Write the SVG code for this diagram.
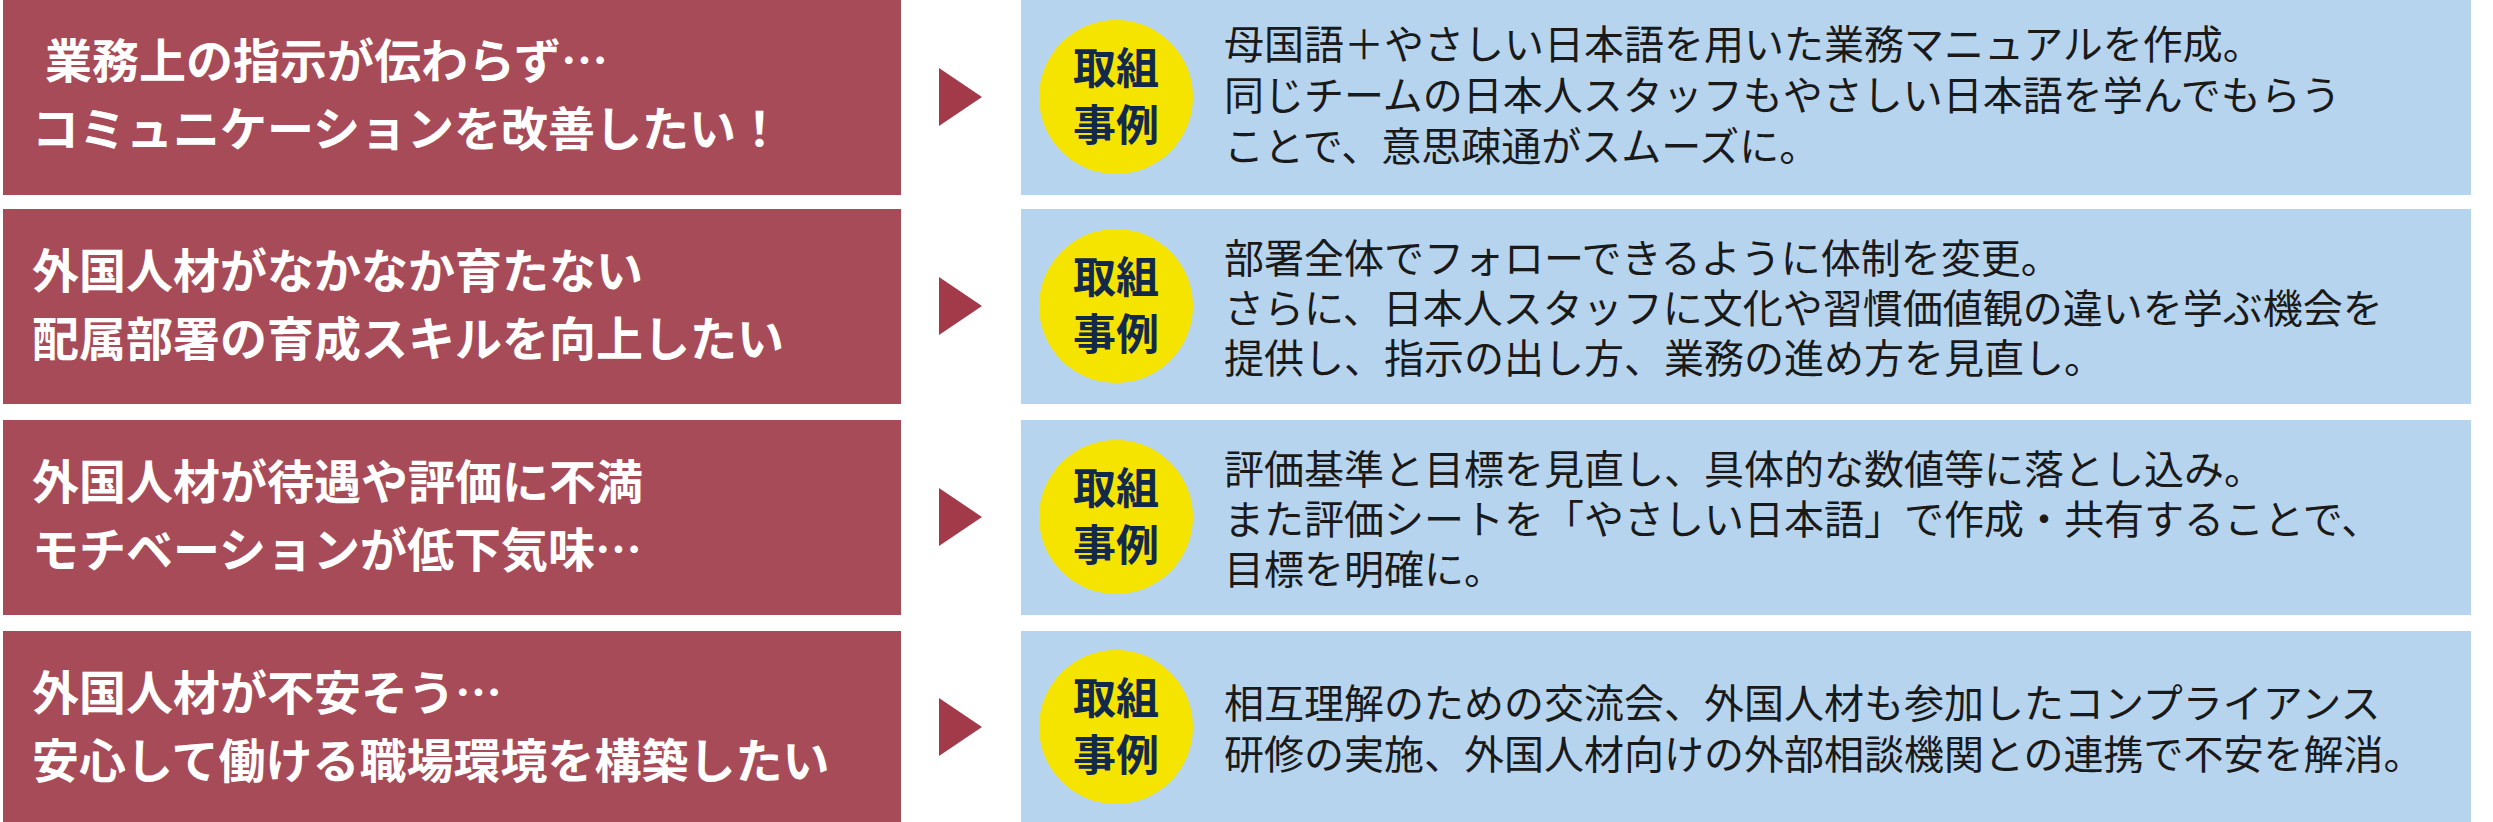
<svg xmlns="http://www.w3.org/2000/svg" width="2493" height="822" viewBox="0 0 2493 822">
<style>
.l{fill:#A84B58}.r{fill:#B7D4EE}.a{fill:#A33A4A}.c{fill:#F5E400}
.lt{font-family:"Noto Sans CJK JP",sans-serif;font-weight:bold;font-size:47px;fill:#fff}
.bt{font-family:"Noto Sans CJK JP",sans-serif;font-weight:bold;font-size:43px;fill:#13294B;text-anchor:middle}
.rt{font-family:"Noto Sans CJK JP",sans-serif;font-size:40px;fill:#1a1a1a}
</style>
<rect width="2493" height="822" fill="#fff"/>
<g id="row1">
<rect class="l" x="3" y="0" width="898" height="195"/>
<text class="lt" x="45" y="78">業務上の指示が伝わらず…</text>
<text class="lt" x="32" y="146">コミュニケーションを改善したい！</text>
<rect class="r" x="1021" y="0" width="1450" height="195"/>
<circle class="c" cx="1116" cy="97" r="77"/>
<text class="bt" x="1116" y="84">取組</text><text class="bt" x="1116" y="141">事例</text>
<text class="rt" x="1224" y="59">母国語＋やさしい日本語を用いた業務マニュアルを作成。</text>
<text class="rt" x="1224" y="110">同じチームの日本人スタッフもやさしい日本語を学んでもらう</text>
<text class="rt" x="1224" y="161">ことで、意思疎通がスムーズに。</text>
</g>
<g id="row2">
<rect class="l" x="3" y="209" width="898" height="195"/>
<text class="lt" x="32" y="288">外国人材がなかなか育たない</text>
<text class="lt" x="32" y="356">配属部署の育成スキルを向上したい</text>
<rect class="r" x="1021" y="209" width="1450" height="195"/>
<circle class="c" cx="1116" cy="306" r="77"/>
<text class="bt" x="1116" y="293">取組</text><text class="bt" x="1116" y="350">事例</text>
<text class="rt" x="1224" y="273">部署全体でフォローできるように体制を変更。</text>
<text class="rt" x="1224" y="323">さらに、日本人スタッフに文化や習慣価値観の違いを学ぶ機会を</text>
<text class="rt" x="1224" y="373">提供し、指示の出し方、業務の進め方を見直し。</text>
</g>
<g id="row3">
<rect class="l" x="3" y="420" width="898" height="195"/>
<text class="lt" x="32" y="499">外国人材が待遇や評価に不満</text>
<text class="lt" x="32" y="567">モチベーションが低下気味…</text>
<rect class="r" x="1021" y="420" width="1450" height="195"/>
<circle class="c" cx="1116" cy="517" r="77"/>
<text class="bt" x="1116" y="504">取組</text><text class="bt" x="1116" y="561">事例</text>
<text class="rt" x="1224" y="484">評価基準と目標を見直し、具体的な数値等に落とし込み。</text>
<text class="rt" x="1224" y="534">また評価シートを「やさしい日本語」で作成・共有することで、</text>
<text class="rt" x="1224" y="584">目標を明確に。</text>
</g>
<g id="row4">
<rect class="l" x="3" y="631" width="898" height="191"/>
<text class="lt" x="32" y="710">外国人材が不安そう…</text>
<text class="lt" x="32" y="778">安心して働ける職場環境を構築したい</text>
<rect class="r" x="1021" y="631" width="1450" height="191"/>
<circle class="c" cx="1116" cy="727" r="77"/>
<text class="bt" x="1116" y="714">取組</text><text class="bt" x="1116" y="771">事例</text>
<text class="rt" x="1224" y="718">相互理解のための交流会、外国人材も参加したコンプライアンス</text>
<text class="rt" x="1224" y="769">研修の実施、外国人材向けの外部相談機関との連携で不安を解消。</text>
</g>
<g id="connectors">
<polygon class="a" points="939,68 982,97 939,126"/>
<polygon class="a" points="939,277 982,306 939,335"/>
<polygon class="a" points="939,488 982,517 939,546"/>
<polygon class="a" points="939,698 982,727 939,756"/>
</g>
</svg>
